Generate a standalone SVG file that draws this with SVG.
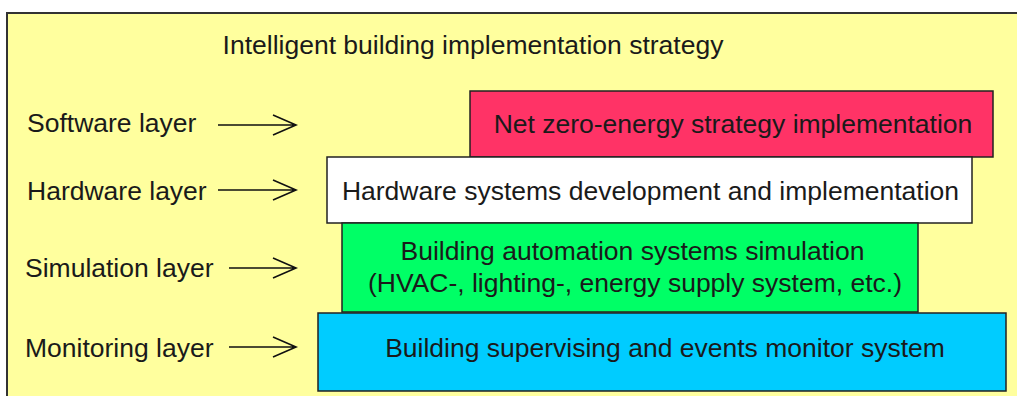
<svg xmlns="http://www.w3.org/2000/svg" width="1017" height="396" viewBox="0 0 1017 396">
<defs>
<style>
text{font-family:"Liberation Sans",Arial,sans-serif;font-size:26.5px;fill:#1a1a1a}
.box{stroke:#222;stroke-width:1.5}
.c{text-anchor:middle}
.arr{stroke:#111;stroke-width:1.6;fill:none}
</style>
</defs>
<rect x="0" y="0" width="1017" height="396" fill="#fff"/>
<rect x="7" y="13" width="1020" height="400" fill="#ffff9e" stroke="#333" stroke-width="2"/>
<text class="c" x="473" y="54">Intelligent building implementation strategy</text>
<g id="labels">
<text x="27" y="132">Software layer</text>
<text x="27" y="200">Hardware layer</text>
<text x="25" y="276.5">Simulation layer</text>
<text x="25" y="357">Monitoring layer</text>
</g>
<g id="connectors">
<path class="arr" d="M218 125H296M273 115L296 125L273 135"/>
<path class="arr" d="M218 190H296M273 180L296 190L273 200"/>
<path class="arr" d="M229 268H296M273 258L296 268L273 278"/>
<path class="arr" d="M229 347H296M273 337L296 347L273 357"/>
</g>
<g id="net-zero">
<rect class="box" x="470" y="91" width="523" height="66" fill="#ff3366"/>
<text class="c" x="733" y="133">Net zero-energy strategy implementation</text>
</g>
<g id="hardware">
<rect class="box" x="327" y="157" width="645" height="66" fill="#fff"/>
<text class="c" x="650.5" y="200">Hardware systems development and implementation</text>
</g>
<g id="simulation">
<rect class="box" x="342" y="223" width="576" height="89" fill="#00ff66"/>
<text class="c" x="632.5" y="260">Building automation systems simulation</text>
<text class="c" x="635" y="291.5">(HVAC-, lighting-, energy supply system, etc.)</text>
</g>
<g id="monitoring">
<rect class="box" x="318" y="313" width="688" height="78" fill="#00ccff"/>
<text class="c" x="665" y="357">Building supervising and events monitor system</text>
</g>
</svg>
